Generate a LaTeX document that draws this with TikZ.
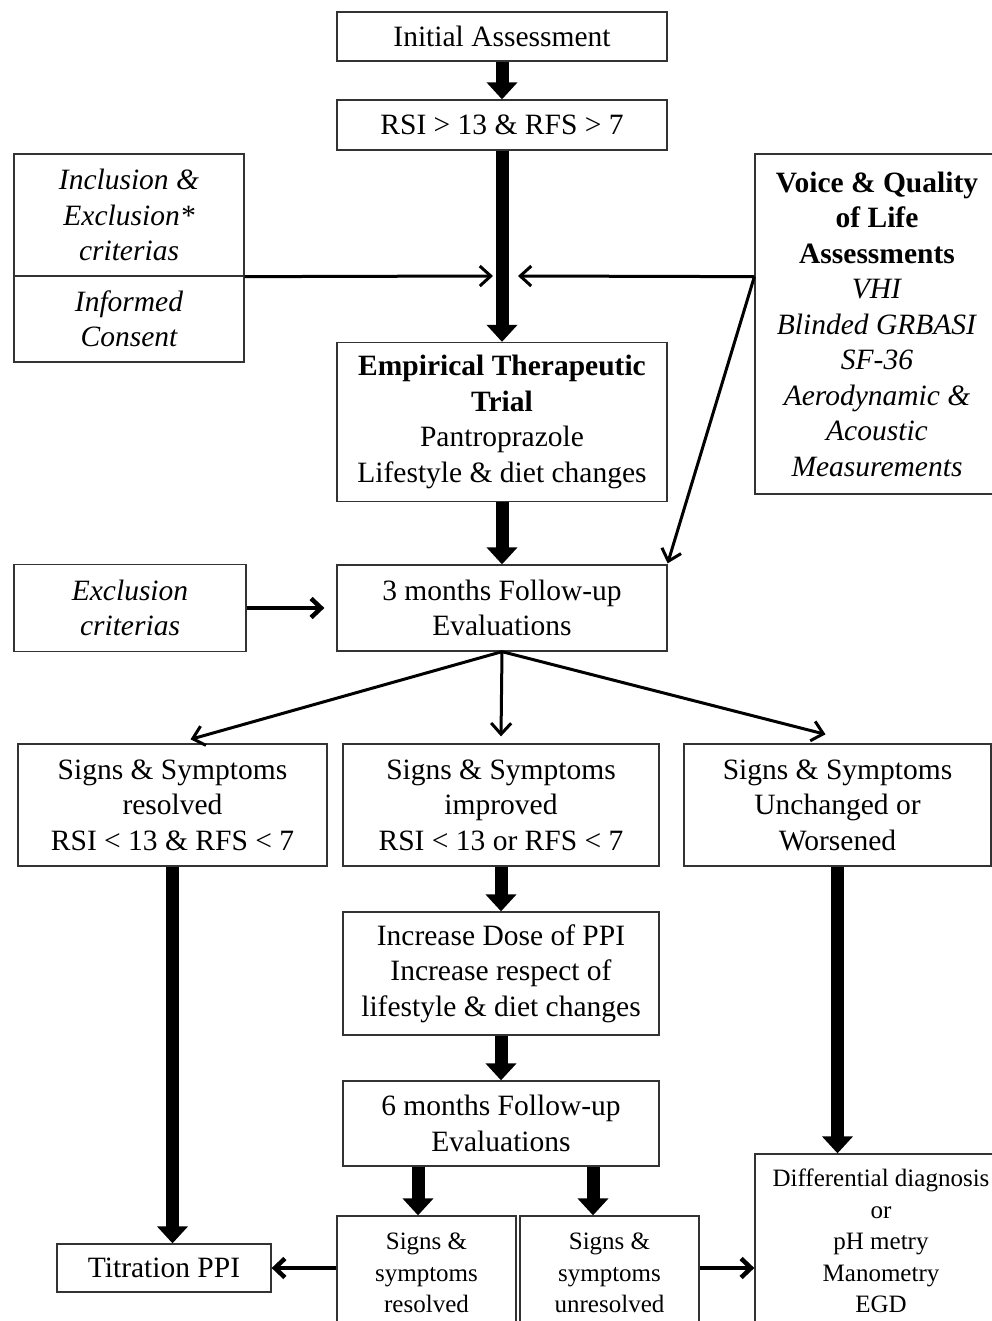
\documentclass[tikz,border=0pt]{standalone}
\usepackage{fontspec}
\setmainfont{Liberation Serif}
\usepackage{tikz}
\usetikzlibrary{arrows.meta, positioning, calc}
\newcommand{\boxsize}{\fontsize{29.5}{35.5}\selectfont}
\newcommand{\smallsize}{\fontsize{25}{31.5}\selectfont}

\begin{document}
\begin{tikzpicture}[
    x=1pt, y=-1pt,
    box/.style={draw=black!80, line width=1.3pt, align=center, inner sep=0pt,
                font=\boxsize},
    smallbox/.style={box, font=\smallsize},
    arr/.style={-{Straight Barb[length=11pt,width=20pt]}, line width=3pt},
    midarr/.style={-{Straight Barb[length=10pt,width=19pt]}, line width=4.5pt},
    bigarr/.style={-{Triangle[length=17pt,width=30pt]}, line width=13pt}
]
\useasboundingbox (0,0) rectangle (992,1321);
\clip (0,0) rectangle (992,1321);

% --- Top column: assessment -> trial -> 3 months follow-up.
\node[box, minimum width=330pt, minimum height=49pt]  (init)  at (502,36.5) {Initial Assessment};
\node[box, minimum width=330pt, minimum height=50pt]  (rsi)   at (502,125)  {RSI > 13 \& RFS > 7};
\node[box, minimum width=330pt, minimum height=159pt] (trial) at (502,422)
    {\textbf{Empirical Therapeutic}\\\textbf{Trial}\\Pantroprazole\\Lifestyle \& diet changes};
\node[box, minimum width=330pt, minimum height=86pt]  (fu3)   at (502,608)  {3 months Follow-up\\Evaluations};

% --- Side boxes: criteria and consent (left), assessments (right).
\node[box, minimum width=230pt, minimum height=122pt, font=\boxsize\itshape] (incl) at (129,215)
    {Inclusion \&\\Exclusion*\\criterias};
\node[box, minimum width=230pt, minimum height=86pt, font=\boxsize\itshape]  (cons) at (129,319)
    {Informed\\Consent};
\node[box, minimum width=244pt, minimum height=340pt] (voice) at (877,324)
    {\textbf{Voice \& Quality}\\\textbf{of Life}\\\textbf{Assessments}\\\textit{VHI}\\
     \textit{Blinded GRBASI}\\\textit{SF-36}\\\textit{Aerodynamic \&}\\\textit{Acoustic}\\
     \textit{Measurements}};
\node[box, minimum width=232pt, minimum height=87pt, font=\boxsize\itshape] (excl) at (130,608)
    {Exclusion\\criterias};

% --- Outcome row after 3 months.
\node[box, minimum width=309pt, minimum height=122pt] (resA)  at (172.5,805)
    {Signs \& Symptoms\\resolved\\RSI < 13 \& RFS < 7};
\node[box, minimum width=316pt, minimum height=122pt] (impB)  at (501,805)
    {Signs \& Symptoms\\improved\\RSI < 13 or RFS < 7};
\node[box, minimum width=307pt, minimum height=122pt] (unchC) at (837.5,805)
    {Signs \& Symptoms\\Unchanged or\\Worsened};

% --- Middle column: dose increase -> 6 months follow-up.
\node[box, minimum width=316pt, minimum height=123pt] (incr) at (501,973.5)
    {Increase Dose of PPI\\Increase respect of\\lifestyle \& diet changes};
\node[box, minimum width=316pt, minimum height=85pt]  (fu6)  at (501,1123.5)
    {6 months Follow-up\\Evaluations};

% --- Bottom row (runs past the lower edge).
\node[box, minimum width=214pt, minimum height=48pt]       (titr)  at (164,1268)   {Titration PPI};
\node[smallbox, minimum width=179pt, minimum height=114pt] (resb)  at (426.5,1273) {Signs \&\\symptoms\\resolved};
\node[smallbox, minimum width=179pt, minimum height=114pt] (unres) at (609.5,1273) {Signs \&\\symptoms\\unresolved};
\node[smallbox, minimum width=252pt, minimum height=174pt] (diff)  at (881,1241)
    {Differential diagnosis\\or\\pH metry\\Manometry\\EGD};

% --- Junction points on the long shaft between RSI and trial.
\coordinate (vq) at (incl.south east -| voice.west);
\coordinate (jl) at (493,276);
\coordinate (jr) at (518,276);

% --- Thick flow arrows.
\draw[bigarr] (init)  -- (rsi);
\draw[bigarr] (rsi)   -- (trial);
\draw[bigarr] (trial) -- (fu3);
\draw[bigarr] (impB)  -- (incr);
\draw[bigarr] (incr)  -- (fu6);
\draw[bigarr] (resA.south)  -- (resA.south |- titr.north);
\draw[bigarr] (unchC.south) -- (unchC.south |- diff.north);
\draw[bigarr] ([xshift=-83pt]fu6.south) -- ([xshift=-83pt]fu6.south |- resb.north);
\draw[bigarr] ([xshift=92pt]fu6.south)  -- ([xshift=92pt]fu6.south |- unres.north);

% --- Thin arrows into the main column.
\draw[arr] (incl.south east) -- (jl);
\draw[arr] (vq) -- (jr);
\draw[arr] (vq) -- ([yshift=1pt]fu3.north east);
\draw[midarr] (excl) -- ([xshift=-12pt]fu3.west);

% --- Fan out of the 3 months follow-up.
\draw[arr] (fu3.south) -- ([xshift=18pt,yshift=4pt]resA.north);
\draw[arr] (fu3.south) -- ([yshift=7pt]impB.north);
\draw[arr] (fu3.south) -- ([xshift=-12pt,yshift=9pt]unchC.north);

% --- Bottom side arrows.
\draw[midarr] (titr.east -| resb.west) -- (titr.east);
\draw[midarr] (titr.east -| unres.east) -- (titr.east -| diff.west);

\end{tikzpicture}
\end{document}
